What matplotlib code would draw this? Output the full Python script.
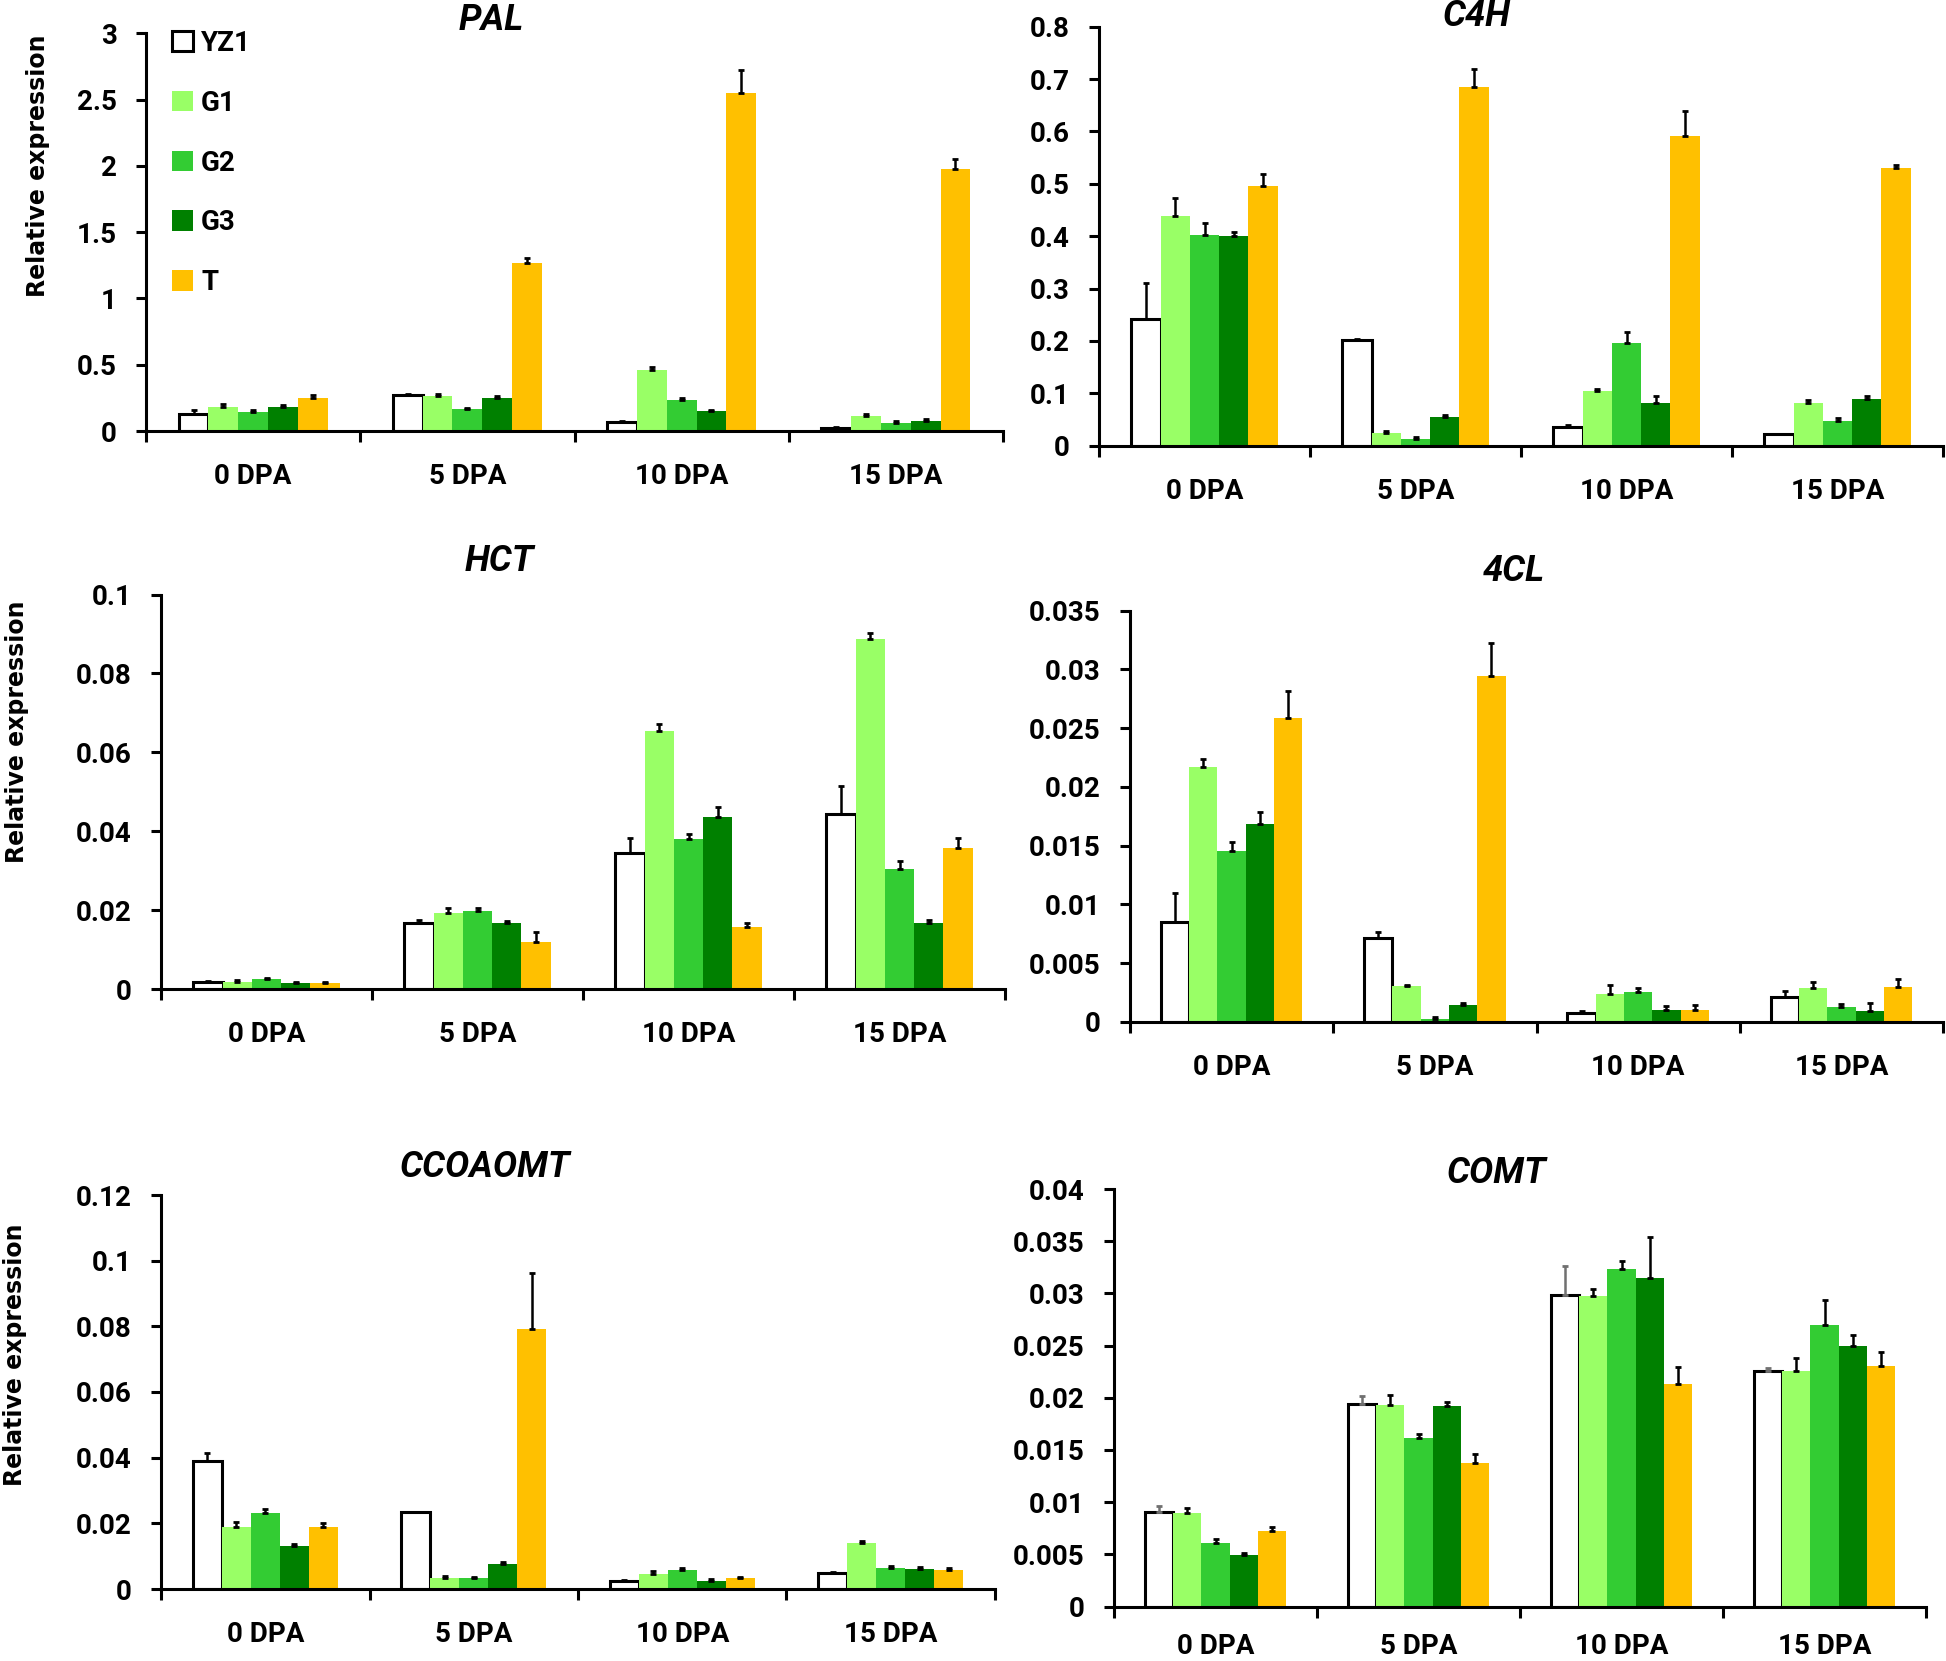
import matplotlib
matplotlib.use("Agg")
import matplotlib.pyplot as plt
import numpy as np

categories = ["0 DPA", "5 DPA", "10 DPA", "15 DPA"]
series = ["YZ1", "G1", "G2", "G3", "T"]
colors = ["#FFFFFF", "#99FF66", "#33CC33", "#008000", "#FFC000"]

# values: one list per series (YZ1, G1, G2, G3, T), across categories
pal_mean = [[0.126, 0.272, 0.068, 0.025],
            [0.184, 0.264, 0.460, 0.113],
            [0.143, 0.166, 0.234, 0.063],
            [0.184, 0.249, 0.151, 0.075],
            [0.249, 1.267, 2.552, 1.980]]
pal_err = [[0.030, 0.005, 0.010, 0.003],
           [0.020, 0.015, 0.020, 0.015],
           [0.017, 0.010, 0.015, 0.012],
           [0.012, 0.015, 0.010, 0.012],
           [0.020, 0.035, 0.170, 0.075]]

c4h_mean = [[0.242, 0.201, 0.0356, 0.0216],
            [0.4386, 0.0236, 0.104, 0.082],
            [0.4017, 0.012, 0.197, 0.048],
            [0.3997, 0.055, 0.081, 0.089],
            [0.495, 0.684, 0.591, 0.530]]
c4h_err = [[0.068, 0.003, 0.003, 0.001],
           [0.034, 0.005, 0.005, 0.006],
           [0.023, 0.004, 0.020, 0.004],
           [0.008, 0.003, 0.013, 0.006],
           [0.024, 0.035, 0.048, 0.005]]

hct_mean = [[0.0018, 0.01667, 0.0346, 0.0444],
            [0.0019, 0.01938, 0.0654, 0.0888],
            [0.0025, 0.01966, 0.0380, 0.0303],
            [0.0015, 0.01676, 0.0436, 0.01667],
            [0.0015, 0.01187, 0.01576, 0.0358]]
hct_err = [[0.0003, 0.0007, 0.0036, 0.0070],
           [0.0005, 0.0012, 0.0018, 0.0014],
           [0.0004, 0.0010, 0.0014, 0.0022],
           [0.0003, 0.0006, 0.0025, 0.0009],
           [0.0004, 0.0026, 0.0009, 0.0024]]

cl4_mean = [[0.00848, 0.00711, 0.00076, 0.00213],
            [0.02169, 0.00304, 0.00237, 0.00292],
            [0.01455, 0.00024, 0.00258, 0.00128],
            [0.01683, 0.00146, 0.00103, 0.00091],
            [0.02589, 0.02944, 0.00103, 0.00301]]
cl4_err = [[0.00246, 0.00055, 0.0002, 0.0005],
           [0.0007, 0.00015, 0.00076, 0.0005],
           [0.0008, 0.0002, 0.0003, 0.00024],
           [0.0010, 0.00015, 0.0003, 0.0007],
           [0.00228, 0.0028, 0.0004, 0.00064]]

ccoaomt_mean = [[0.0389, 0.0233, 0.00252, 0.00494],
                [0.0190, 0.00326, 0.00452, 0.01397],
                [0.0231, 0.00336, 0.00578, 0.0063],
                [0.0131, 0.00757, 0.00242, 0.0061],
                [0.0190, 0.0791, 0.00326, 0.00578]]
ccoaomt_err = [[0.0024, 0.0003, 0.0003, 0.0003],
               [0.0015, 0.0006, 0.0010, 0.0008],
               [0.0014, 0.0003, 0.0005, 0.0008],
               [0.0005, 0.0008, 0.0006, 0.0007],
               [0.0010, 0.0172, 0.0005, 0.0006]]

comt_mean = [[0.00902, 0.0194, 0.02982, 0.02258],
             [0.00899, 0.01934, 0.02972, 0.02255],
             [0.00612, 0.01617, 0.0323, 0.02701],
             [0.00489, 0.01924, 0.03144, 0.02493],
             [0.00727, 0.01372, 0.02136, 0.02301]]
comt_err = [[0.0006, 0.0008, 0.0028, 0.0003],
            [0.0004, 0.0009, 0.0007, 0.0013],
            [0.0003, 0.0004, 0.0008, 0.0024],
            [0.0002, 0.0004, 0.0040, 0.0011],
            [0.0003, 0.0009, 0.0016, 0.0014]]

W, H = 1946, 1661
fig = plt.figure(figsize=(W / 100, H / 100), dpi=100)
FONT = ["Roboto", "DejaVu Sans"]
FS = 20
TFS = 26
BW = 0.139


def add_ax(l, r, b, t):
    return fig.add_axes([l / W, 1 - b / H, (r - l) / W, (b - t) / H])


def panel(box, mean, err, ymax, ystep, title, title_xy, ylabel_xy=None,
          legend=False, yz1_ecolor="black", xpad=23):
    ax = add_ax(*box)
    x = np.arange(len(categories))
    handles = []
    for i, (m, e, c) in enumerate(zip(mean, err, colors)):
        ec = "black" if i == 0 else c
        lw = 2.2 if i == 0 else 0
        b = ax.bar(x + (i - 2) * BW, m, width=BW, color=c, edgecolor=ec,
                   linewidth=lw, zorder=3, label=series[i])
        ecol = yz1_ecolor if i == 0 else "black"
        ax.errorbar(x + (i - 2) * BW, m, yerr=[np.zeros(len(m)), e], fmt="none",
                    ecolor=ecol, elinewidth=1.8, capsize=2, capthick=2, zorder=4)
        handles.append(b)
    ax.set_xlim(-0.5, len(categories) - 0.5)
    ax.set_ylim(0, ymax)
    ticks = np.arange(0, ymax + ystep / 2, ystep)
    ax.set_yticks(ticks)
    ax.set_yticklabels([f"{v:g}" for v in ticks],
                       family=FONT, fontsize=FS, fontweight="bold")
    ax.set_xticks(np.arange(-0.5, len(categories), 1.0))
    ax.set_xticklabels([])
    ax.set_xticks(x, minor=True)
    ax.set_xticklabels(categories, minor=True, family=FONT, fontsize=FS,
                       fontweight="bold")
    ax.tick_params(axis="x", which="major", direction="out", length=8, width=2.2)
    ax.tick_params(axis="x", which="minor", length=0, pad=xpad)
    ax.tick_params(axis="y", direction="out", length=7, width=2.2, pad=14)
    for s in ["top", "right"]:
        ax.spines[s].set_visible(False)
    for s in ["left", "bottom"]:
        ax.spines[s].set_linewidth(2.2)
    ax.spines["bottom"].set_zorder(5)
    fig.text(title_xy[0] / W, 1 - title_xy[1] / H, title, ha="center", va="center",
             family=FONT, fontsize=TFS, fontweight="bold", style="italic")
    if ylabel_xy is not None:
        fig.text(ylabel_xy[0] / W, 1 - ylabel_xy[1] / H, "Relative expression",
                 rotation=90, ha="center", va="center", family="DejaVu Sans",
                 fontsize=17, fontweight="bold")
    if legend:
        ax.legend(handles=handles, loc="upper left",
                  bbox_to_anchor=(172 / W, 1 - 30 / H),
                  bbox_transform=fig.transFigure, frameon=False,
                  prop={"family": FONT, "size": FS, "weight": "bold"},
                  handlelength=0.75, handleheight=0.75, handletextpad=0.3,
                  labelspacing=1.18, borderpad=0, borderaxespad=0)
    return ax


panel((146, 1003, 431, 33.3), pal_mean, pal_err, 3, 0.5, "PAL", (491, 20),
      ylabel_xy=(38, 166), legend=True)
panel((1099, 1943, 445.7, 26.7), c4h_mean, c4h_err, 0.8, 0.1, "C4H", (1477, 16))
panel((161, 1005, 989, 594.6), hct_mean, hct_err, 0.1, 0.02, "HCT", (499, 561),
      ylabel_xy=(17, 732))
panel((1130, 1943, 1022, 610.7), cl4_mean, cl4_err, 0.035, 0.005, "4CL", (1514, 571))
panel((161, 995, 1589, 1195), ccoaomt_mean, ccoaomt_err, 0.12, 0.02, "CCOAOMT",
      (485, 1167), ylabel_xy=(15, 1355))
panel((1114, 1926, 1606.5, 1189), comt_mean, comt_err, 0.04, 0.005, "COMT",
      (1496, 1173), yz1_ecolor="#707070", xpad=19)

fig.savefig("out.png", dpi=100)
